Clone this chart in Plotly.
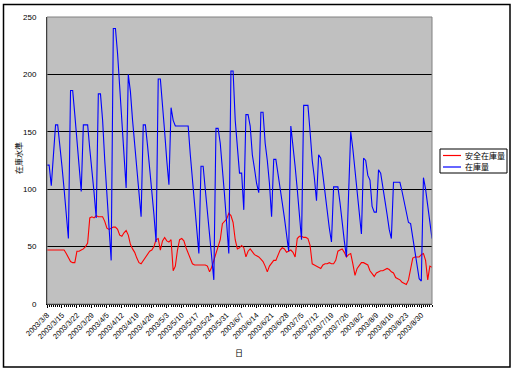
import pandas as pd
import plotly.graph_objects as go

start_date = "2003-03-08"
n_days = 181

tick_dates = ["2003-03-08", "2003-03-15", "2003-03-22", "2003-03-29", "2003-04-05", "2003-04-12",
              "2003-04-19", "2003-04-26", "2003-05-03", "2003-05-10", "2003-05-17", "2003-05-24",
              "2003-05-31", "2003-06-07", "2003-06-14", "2003-06-21", "2003-06-28", "2003-07-05",
              "2003-07-12", "2003-07-19", "2003-07-26", "2003-08-02", "2003-08-09", "2003-08-16",
              "2003-08-23", "2003-08-30"]
tick_labels = ["2003/3/8", "2003/3/15", "2003/3/22", "2003/3/29", "2003/4/5", "2003/4/12",
               "2003/4/19", "2003/4/26", "2003/5/3", "2003/5/10", "2003/5/17", "2003/5/24",
               "2003/5/31", "2003/6/7", "2003/6/14", "2003/6/21", "2003/6/28", "2003/7/5",
               "2003/7/12", "2003/7/19", "2003/7/26", "2003/8/2", "2003/8/9", "2003/8/16",
               "2003/8/23", "2003/8/30"]

series_names = ["安全在庫量", "在庫量"]
series_colors = ["#ff0000", "#0000ff"]

# 在庫量 (inventory)
inventory = [
    121, 121, 103, 127, 156, 156, 140, 120, 100, 80,
    57, 186, 186, 165, 140, 120, 98, 156, 156, 156,
    135, 118, 97, 75, 183, 183, 160, 125, 95, 65,
    38, 240, 240, 218, 190, 160, 130, 101, 200, 185,
    160, 140, 115, 95, 76, 156, 156, 138, 120, 100,
    78, 54, 196, 196, 175, 150, 125, 104, 171, 160,
    155, 155, 155, 155, 155, 155, 155, 130, 110, 88,
    66, 44, 120, 120, 100, 80, 60, 40, 21, 153,
    153, 140, 120, 95, 70, 44, 203, 203, 160, 140,
    114, 114, 82, 165, 165, 155, 130, 118, 105, 97,
    167, 167, 140, 125, 105, 76, 126, 126, 112, 100,
    88, 75, 60, 46, 155, 140, 120, 100, 80, 56,
    173, 173, 173, 150, 125, 110, 90, 130, 127, 112,
    95, 80, 66, 54, 102, 102, 102, 88, 70, 55,
    41, 95, 150, 135, 115, 98, 80, 61, 127, 125,
    112, 108, 85, 80, 80, 117, 114, 100, 90, 78,
    65, 57, 106, 106, 106, 106, 98, 88, 78, 71,
    70, 58, 45, 33, 22, 20, 110, 100, 85, 70,
    57,
]

# 安全在庫量 (safety stock)
safety_stock = [
    47, 47, 47, 47, 47, 47, 47, 47, 47, 44,
    40, 37, 36, 36, 46, 46, 47, 48, 50, 53,
    75, 76, 75, 77, 76, 76, 76, 72, 66, 65,
    66, 67, 67, 65, 60, 59, 62, 64, 60, 52,
    48, 45, 40, 36, 35, 38, 41, 44, 46, 47,
    50, 56, 57, 47, 55, 58, 55, 54, 56, 29,
    33, 47, 56, 57, 55, 49, 44, 40, 35, 34,
    34, 34, 34, 34, 34, 33, 28, 32, 38, 44,
    50, 56, 70, 72, 74, 79, 77, 71, 56, 48,
    49, 51, 49, 41, 46, 48, 45, 43, 42, 41,
    39, 37, 33, 28, 33, 36, 38, 38, 42, 47,
    49, 48, 45, 46, 47, 45, 41, 57, 59, 59,
    58, 58, 57, 51, 35, 34, 33, 32, 31, 34,
    35, 35, 36, 35, 35, 38, 46, 47, 48, 45,
    41, 43, 44, 35, 25, 31, 34, 36, 36, 35,
    34, 29, 26, 24, 27, 28, 29, 29, 30, 31,
    30, 28, 27, 23, 22, 21, 19, 18, 17, 21,
    30, 40, 41, 41, 41, 43, 44, 38, 21, 33,
    32,
]

dates = pd.date_range(start_date, periods=n_days, freq="D")

W, H = 515, 371
L, R, T, B = 47, 432, 17, 304
PW, PH = R - L, B - T


def px(x):
    return (x - L) / PW


def py(y):
    return (B - y) / PH


fig = go.Figure()
for name, color, vals in zip(series_names, series_colors, [safety_stock, inventory]):
    fig.add_trace(go.Scatter(x=dates, y=vals, mode="lines", name=name,
                             line=dict(color=color, width=1.1), showlegend=False,
                             hoverinfo="skip"))

base_font = "Liberation Sans, Arial, Noto Sans CJK JP, sans-serif"
jp_font = "Noto Sans CJK JP, sans-serif"

shapes = [
    dict(type="rect", xref="paper", yref="paper", x0=0, x1=1, y0=0, y1=1,
         line=dict(color="#808080", width=1), fillcolor="rgba(0,0,0,0)", layer="above"),
    dict(type="rect", xref="paper", yref="paper",
         x0=px(3.5), x1=px(510), y0=py(367), y1=py(4.5),
         line=dict(color="black", width=1.5), fillcolor="rgba(0,0,0,0)"),
    # legend box
    dict(type="rect", xref="paper", yref="paper",
         x0=px(440), x1=px(507), y0=py(173), y1=py(149),
         line=dict(color="black", width=1), fillcolor="white"),
]
annotations = []
for i, (name, color) in enumerate(zip(series_names, series_colors)):
    yy = 155.5 + i * 11.5
    shapes.append(dict(type="line", xref="paper", yref="paper",
                       x0=px(443), x1=px(461), y0=py(yy), y1=py(yy),
                       line=dict(color=color, width=1.2)))
    annotations.append(dict(text=name, xref="paper", yref="paper", x=px(464), y=py(yy),
                            xanchor="left", yanchor="middle", showarrow=False, borderpad=0,
                            font=dict(family=jp_font, size=8, color="black")))

annotations.append(dict(text="日", xref="paper", yref="paper", x=px(239), y=py(352),
                        xanchor="center", yanchor="middle", showarrow=False,
                        font=dict(family=jp_font, size=8, color="black")))
annotations.append(dict(text="在庫水準", xref="paper", yref="paper", x=px(18), y=py(158),
                        xanchor="center", yanchor="middle", showarrow=False, textangle=-90,
                        font=dict(family=jp_font, size=8, color="black")))

fig.update_layout(
    width=W, height=H,
    margin=dict(l=L, r=W - R, t=T, b=H - B),
    paper_bgcolor="white",
    plot_bgcolor="#c0c0c0",
    font=dict(family=base_font, size=8, color="black"),
    showlegend=False,
    hovermode=False,
    xaxis=dict(
        type="date",
        range=[dates[0], dates[-1]],
        tickvals=pd.to_datetime(tick_dates),
        ticktext=tick_labels,
        tickangle=-45,
        tickfont=dict(family=base_font, size=7.5),
        showgrid=False, zeroline=False,
        showline=True, linecolor="black", linewidth=1,
        ticks="outside", ticklen=3, tickcolor="black",
        minor=dict(ticks="outside", dtick=86400000, ticklen=2, tickcolor="black", showgrid=False),
    ),
    yaxis=dict(
        range=[0, 250], dtick=50,
        tickfont=dict(family=base_font, size=8),
        showgrid=True, gridcolor="black", gridwidth=1,
        zeroline=False,
        showline=True, linecolor="black", linewidth=1,
        ticks="", ticklabelstandoff=8,
    ),
    shapes=shapes,
    annotations=annotations,
)

fig.write_html("out.html", config={"displayModeBar": False, "staticPlot": True},
               post_script="document.body.style.margin='0';document.body.style.overflow='hidden';")
